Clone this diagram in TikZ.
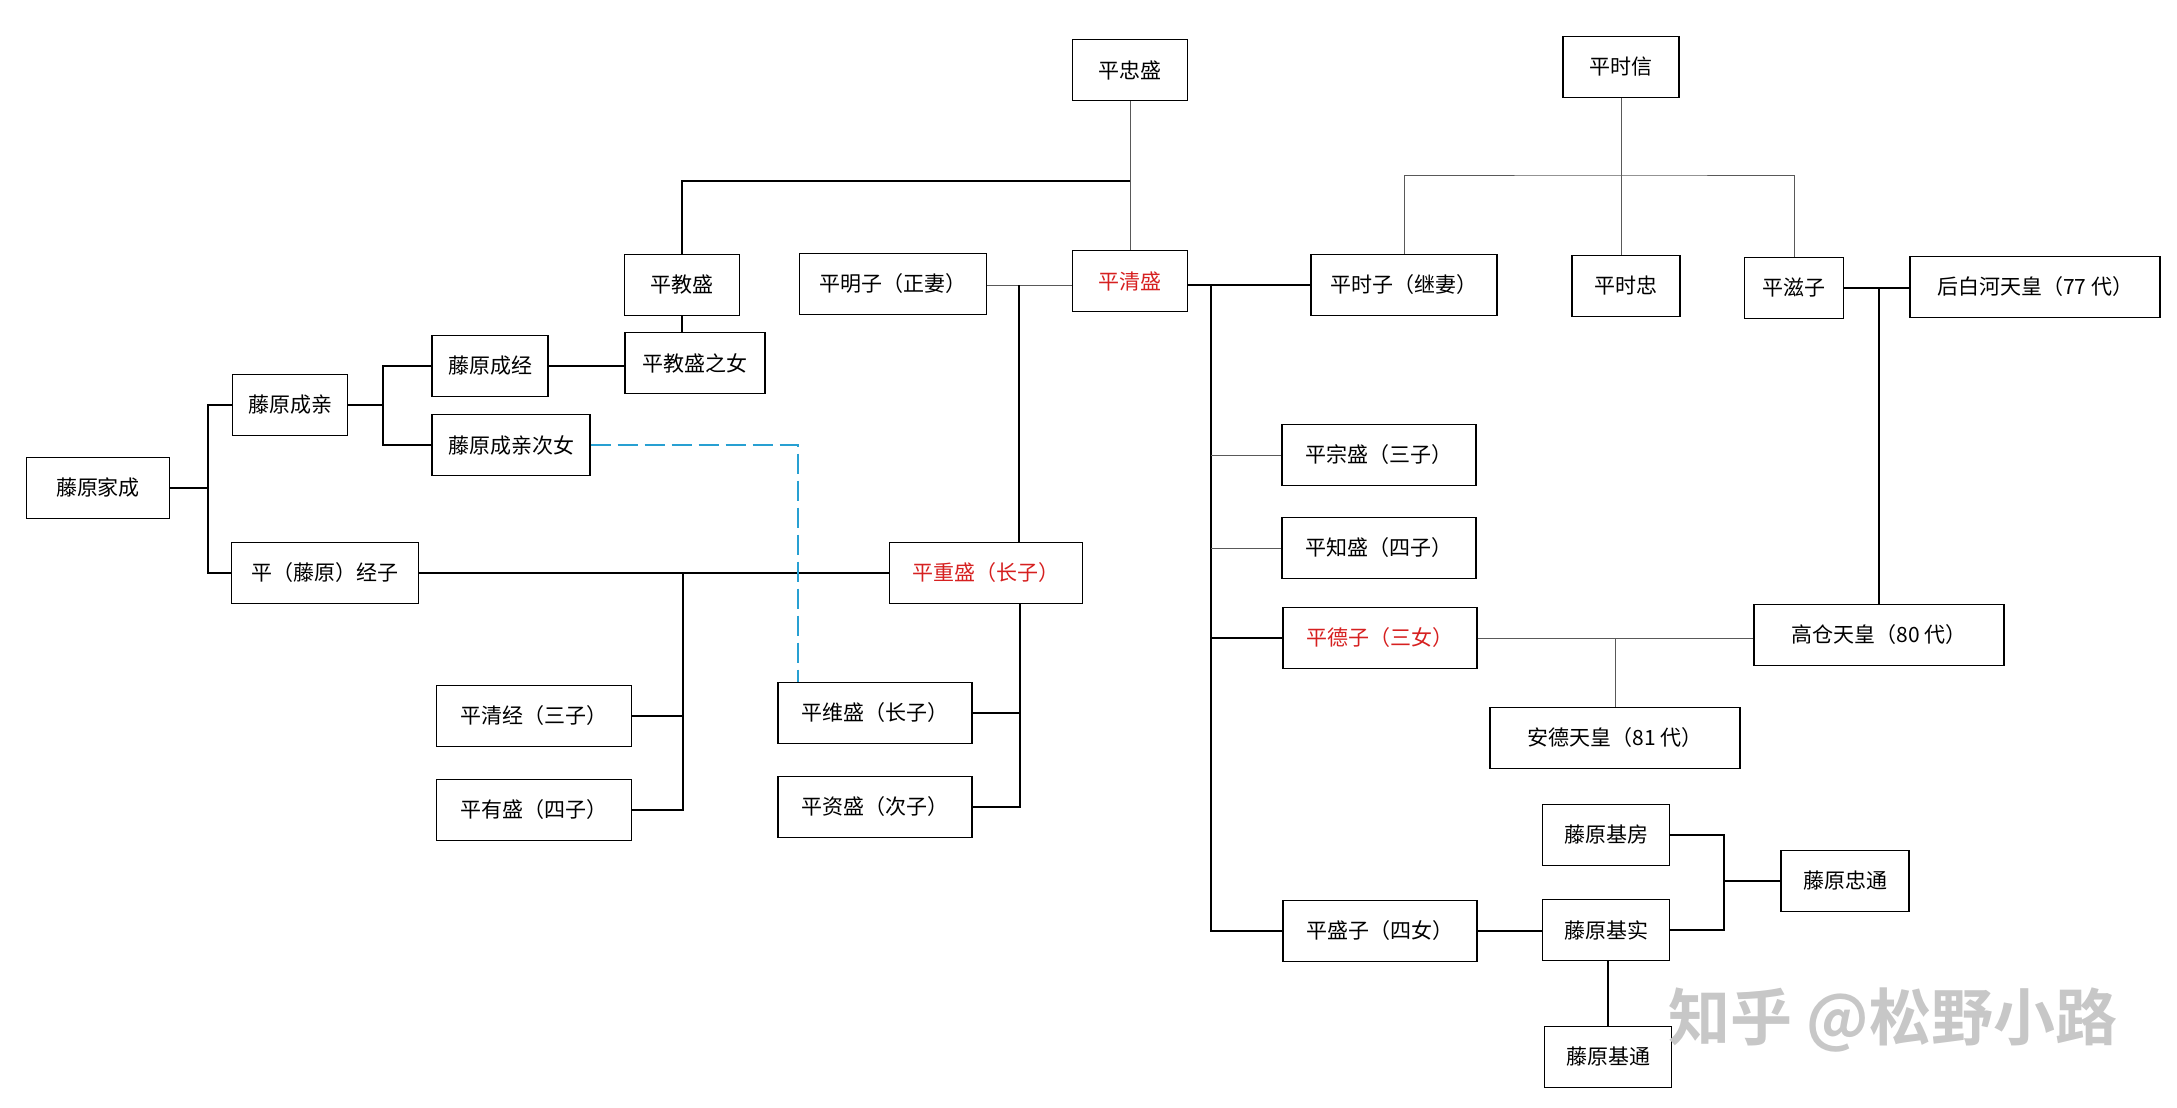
\documentclass[tikz,border=0pt]{standalone}
\usepackage{fontspec}
\newfontfamily\cjk{Noto Sans CJK SC}
\newfontfamily\cjkbold{Noto Sans CJK SC Bold}
\definecolor{kinred}{RGB}{214,32,32}
\definecolor{dashblue}{RGB}{40,160,210}
\tikzset{
  person/.style={draw, line width=1.4pt, minimum height=61pt, inner sep=2pt,
    font=\cjk\fontsize{21}{25}\selectfont},
  tie/.style={line width=1.6pt},
  thintie/.style={line width=0.9pt, black!65},
}

\begin{document}
\begin{tikzpicture}[x=1pt, y=-1pt]
  \useasboundingbox (0,0) rectangle (2177,1108);

  % People
  \foreach \n/\x/\y/\w/\t in {
    zhongsheng/1130/70/115/平忠盛, shixin/1621/67/116/平时信,
    jiaosheng/682/285/115/平教盛, mingzi/893/284/187/平明子（正妻）,
    shizi/1404/285/186/平时子（继妻）, shizhong/1626/286/108/平时忠,
    zizi/1794/288/99/平滋子, goshirakawa/2035/287/250/后白河天皇（77 代）,
    jiaoshengnv/695/363/140/平教盛之女, chengjing/490/366/116/藤原成经,
    chengqin/290/405/115/藤原成亲, ciniu/511/445/158/藤原成亲次女,
    jiacheng/98/488/143/藤原家成, jingzi/325/573/187/平（藤原）经子,
    qingjing/534/716/195/平清经（三子）, yousheng/534/810/195/平有盛（四子）,
    weisheng/875/713/194/平维盛（长子）, zisheng/875/807/194/平资盛（次子）,
    zongsheng/1379/455/194/平宗盛（三子）, zhisheng/1379/548/194/平知盛（四子）,
    gaocang/1879/635/250/高仓天皇（80 代）, ande/1615/738/250/安德天皇（81 代）,
    jifang/1606/835/127/藤原基房, zhongtong/1845/881/128/藤原忠通,
    shengzi/1380/931/194/平盛子（四女）, jishi/1606/930/127/藤原基实,
    jitong/1608/1057/127/藤原基通} {
    \node[person, minimum width=\w pt] (\n) at (\x,\y) {\t};
  }

  % Highlighted people
  \node[person, text=kinred, minimum width=115pt] (qingsheng) at (1130,281) {平清盛};
  \node[person, text=kinred, minimum width=193pt] (chongsheng) at (986,573) {平重盛（长子）};
  \node[person, text=kinred, minimum width=194pt] (dezi) at (1380,638) {平德子（三女）};

  % Junctions
  \coordinate (zsbar) at (1130,181);
  \coordinate (sxbar) at (1622,175);
  \coordinate (mzj) at (1019,285);
  \coordinate (qsj) at (1211,285);
  \coordinate (jcj) at (208,488);
  \coordinate (cqj) at (383,405);
  \coordinate (jzj) at (683,573);
  \coordinate (csj) at (1020,604);
  \coordinate (jfj) at (1724,881);
  \coordinate (dcorner) at (798,445);

  % Taira no Tadamori
  \draw[thintie] (zhongsheng) -- (qingsheng);
  \draw[tie] (zsbar) -| (jiaosheng.north);
  \draw[tie] (jiaosheng.south) -- (jiaosheng.south |- jiaoshengnv.north);

  % Taira no Tokinobu
  \draw[thintie] (shixin) -- (shixin.south |- shizhong.north);
  \draw[thintie] (shizi.north) |- (sxbar) -| (zizi.north);

  % Kiyomori and wives
  \draw[thintie] (mingzi.east |- mzj) -- (mzj -| qingsheng.west);
  \draw[tie] (mzj) -- (mzj |- chongsheng.north);
  \draw[tie] (qingsheng.east |- qsj) -- (qsj -| shizi.west);
  \draw[tie] (qsj) |- (shengzi.west);
  \draw[thintie] (qsj |- zongsheng.west) -- (zongsheng.west);
  \draw[thintie] (qsj |- zhisheng.west) -- (zhisheng.west);
  \draw[tie] (qsj |- dezi.west) -- (dezi.west);

  % Imperial line
  \draw[tie] (zizi.east) -- (zizi.east -| goshirakawa.west);
  \draw[tie] (gaocang.north) -- (gaocang.north |- zizi.east);
  \draw[thintie] (dezi.east) -- (dezi.east -| gaocang.west);
  \draw[thintie] (ande.north) -- (ande.north |- dezi.east);

  % Fujiwara no Ienari
  \draw[tie] (jiacheng.east) -- (jcj);
  \draw[tie] (chengqin.west) -| (jcj) |- (jingzi.west);
  \draw[tie] (chengqin.east) -- (cqj);
  \draw[tie] (chengjing.west) -| (cqj) |- (ciniu.west);
  \draw[tie] (chengjing.east) -- (jiaoshengnv.west |- chengjing.east);

  % Shigemori and sons
  \draw[tie] (jingzi.east) -- (chongsheng.west);
  \draw[tie] (qingjing.east) -| (jzj);
  \draw[tie] (yousheng.east) -| (jzj);
  \draw[tie] (weisheng.east) -| (csj);
  \draw[tie] (zisheng.east) -| (csj);
  \draw[dashblue, line width=1.6pt, dash pattern=on 20pt off 7pt]
    (ciniu.east) -- (dcorner) -- (dcorner |- weisheng.north);

  % Regents
  \draw[tie] (jifang.east) -| (jfj) |- (jishi.east);
  \draw[tie] (jfj) -- (zhongtong.west);
  \draw[tie] (shengzi.east) -- (shengzi.east -| jishi.west);
  \draw[tie] (jishi.south -| jitong.north) -- (jitong.north);

  % Watermark
  \node[text=black!22, font=\cjkbold\fontsize{62}{70}\selectfont] (mark) at (1893,1020) {知乎 @松野小路};
\end{tikzpicture}
\end{document}
